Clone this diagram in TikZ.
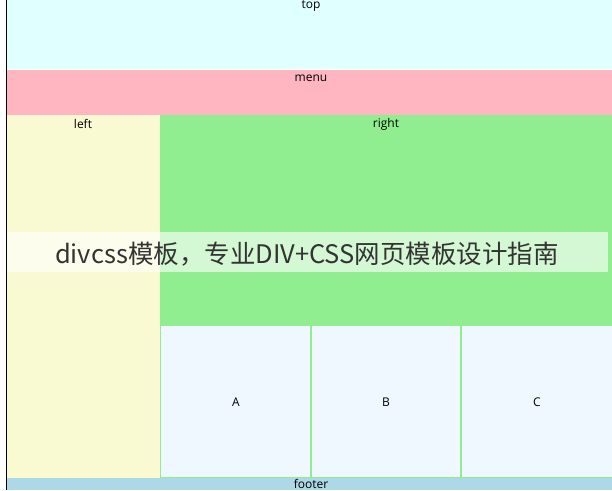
\documentclass[tikz,border=0pt]{standalone}
\usepackage{fontspec}
\setmainfont{Open Sans}
\newfontfamily\cjk{Noto Sans CJK SC}
\definecolor{ctop}{HTML}{E0FFFF}
\definecolor{cmenu}{HTML}{FFB6C1}
\definecolor{cleft}{HTML}{FAFAD2}
\definecolor{cright}{HTML}{90EE90}
\definecolor{cbox}{HTML}{F0F8FF}
\definecolor{cfoot}{HTML}{ADD8E6}
\definecolor{cbanner}{HTML}{333333}
\tikzset{
  lbl/.style={font=\fontsize{12}{14}\selectfont, text=black, inner sep=0pt},
  cell/.style={fill=cbox, draw=cright, line width=1.2pt},
}
\begin{document}
\begin{tikzpicture}[x=1pt,y=1pt]
\useasboundingbox (0,0) rectangle (612,490);
\clip (0,0) rectangle (612,490);
\fill[white] (0,0) rectangle (612,490);
% top
\fill[ctop] (7,421) rectangle (612,490);
\node[lbl, anchor=north] (top) at (311,489.5) {top};
% menu
\fill[cmenu] (7,375) rectangle (612,420);
\node[lbl] (menu) at (311,412) {menu};
% left
\fill[cleft] (7,12) rectangle (160,375);
\node[lbl] (left) at (83,366) {left};
% right
\fill[cright] (160,165) rectangle (612,375);
\node[lbl] (right) at (386,366) {right};
% cells
\draw[cell] (160.6,12.6) rectangle (311,164.4);
\draw[cell] (311,12.6) rectangle (461,164.4);
\draw[cell] (461,12.6) rectangle (612.5,164.4);
\node[lbl] (A) at (236,88) {A};
\node[lbl] (B) at (386,88) {B};
\node[lbl] (C) at (537,88) {C};
% footer
\fill[cfoot] (7,0) rectangle (612,12);
\node[lbl, anchor=south] (footer) at (311,1.5) {footer};
% left border
\draw[black, line width=1.5pt] (6.5,0) -- (6.5,490);
% banner
\fill[white, opacity=0.62] (7,218) rectangle (608,258);
\node[inner sep=0pt, text=cbanner, font=\cjk\fontsize{25.5}{30}\selectfont] (banner) at (307,236) {divcss模板，专业DIV+CSS网页模板设计指南};
\end{tikzpicture}
\end{document}
